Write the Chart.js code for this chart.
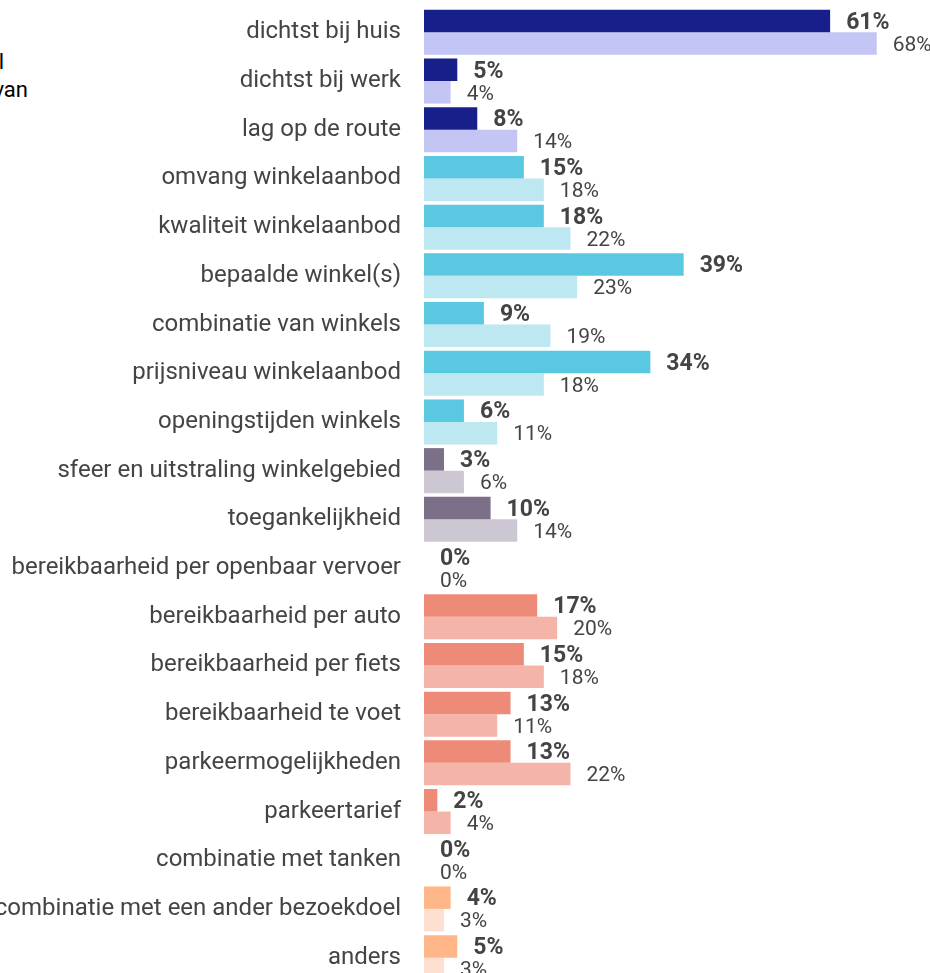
<!DOCTYPE html>
<html>
<head>
<meta charset="utf-8">
<script src="https://cdn.jsdelivr.net/npm/chart.js@4"></script>
<style>
  html, body { margin:0; padding:0; background:#fff; overflow:hidden; width:930px; height:973px; }
  #redenen { position:absolute; left:0; top:0; }
  .side { position:absolute; width:200px; text-align:right; font-family:Roboto, sans-serif; font-size:22px; line-height:26px; color:#000; white-space:nowrap; }
</style>
</head>
<body>
<div class="side" style="left:-196px; top:49px;">l</div>
<div class="side" style="left:-172px; top:77px;">van</div>
<canvas id="redenen" width="930" height="990"></canvas>
<script>
const categories = [
  'dichtst bij huis','dichtst bij werk','lag op de route','omvang winkelaanbod',
  'kwaliteit winkelaanbod','bepaalde winkel(s)','combinatie van winkels','prijsniveau winkelaanbod',
  'openingstijden winkels','sfeer en uitstraling winkelgebied','toegankelijkheid',
  'bereikbaarheid per openbaar vervoer','bereikbaarheid per auto','bereikbaarheid per fiets',
  'bereikbaarheid te voet','parkeermogelijkheden','parkeertarief','combinatie met tanken',
  'combinatie met een ander bezoekdoel','anders'
];
const huidig = [61,5,8,15,18,39,9,34,6,3,10,0,17,15,13,13,2,0,4,5];
const vorig  = [68,4,14,18,22,23,19,18,11,6,14,0,20,18,11,22,4,0,3,3];

// kleur per groep: [donker, licht]
const groepKleur = [
  ['#161f8a','#c3c6f4'],['#161f8a','#c3c6f4'],['#161f8a','#c3c6f4'],
  ['#5bc8e2','#bde8f2'],['#5bc8e2','#bde8f2'],['#5bc8e2','#bde8f2'],
  ['#5bc8e2','#bde8f2'],['#5bc8e2','#bde8f2'],['#5bc8e2','#bde8f2'],
  ['#7b7087','#cdc7d3'],['#7b7087','#cdc7d3'],
  ['#ee8b78','#f4b4a8'],['#ee8b78','#f4b4a8'],['#ee8b78','#f4b4a8'],
  ['#ee8b78','#f4b4a8'],['#ee8b78','#f4b4a8'],['#ee8b78','#f4b4a8'],['#ee8b78','#f4b4a8'],
  ['#ffb78a','#fee0d3'],['#ffb78a','#fee0d3']
];

const waardeLabels = {
  id:'waardeLabels',
  afterDatasetsDraw(chart){
    const ctx = chart.ctx;
    ctx.save();
    ctx.fillStyle = '#444';
    ctx.textAlign = 'left';
    ctx.textBaseline = 'middle';
    chart.data.datasets.forEach((ds, di) => {
      ctx.font = di === 0 ? 'bold 23px Roboto' : '21px Roboto';
      chart.getDatasetMeta(di).data.forEach((bar, i) => {
        ctx.fillText(ds.data[i] + '%', bar.x + 16, bar.y + 2);
      });
    });
    ctx.restore();
  }
};

new Chart(document.getElementById('redenen'), {
  type:'bar',
  data:{
    labels:categories,
    datasets:[
      {label:'huidig', data:huidig, backgroundColor:groepKleur.map(c=>c[0]), barPercentage:1, categoryPercentage:0.925},
      {label:'vorig', data:vorig, backgroundColor:groepKleur.map(c=>c[1]), barPercentage:1, categoryPercentage:0.925}
    ]
  },
  options:{
    indexAxis:'y',
    responsive:false,
    animation:false,
    layout:{ padding:{ top:8, right:0, bottom:8, left:0 } },
    plugins:{ legend:{ display:false }, tooltip:{ enabled:false } },
    scales:{
      x:{ display:false, min:0, max:76 },
      y:{
        grid:{ display:false, drawTicks:false },
        border:{ display:false },
        ticks:{ color:'#444', font:{ family:'Roboto', size:24 }, padding:23, autoSkip:false },
        afterFit(axis){ axis.width = 424; axis.paddingTop = 0; axis.paddingBottom = 0; }
      }
    }
  },
  plugins:[waardeLabels]
});
</script>
</body>
</html>
